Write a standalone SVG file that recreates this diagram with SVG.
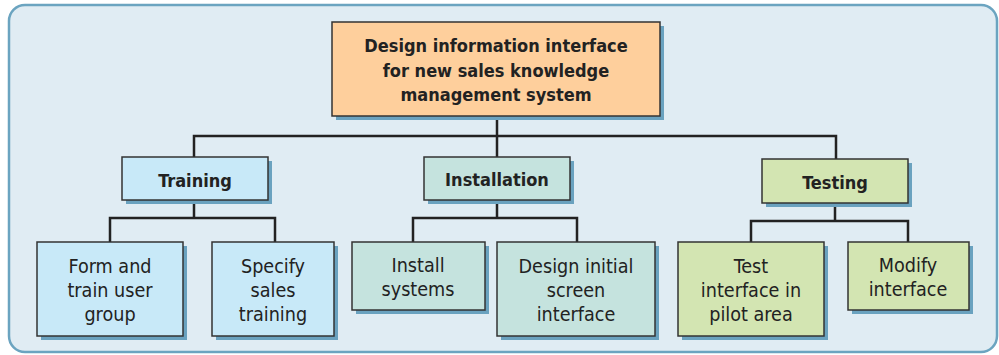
<svg xmlns="http://www.w3.org/2000/svg" width="999" height="355" viewBox="0 0 999 355">
<defs>
<style>
.bg{fill:#e0ecf3;stroke:#6ba4c0;stroke-width:2.5}
.sh{fill:#6aa2bf}
.box{stroke:#333;stroke-width:1.5}
.o{fill:#fecf9c}
.b{fill:#c8e9f8}
.t{fill:#c5e3de}
.g{fill:#d3e5b2}
.conn{fill:none;stroke:#222;stroke-width:2.5}
text{font-family:"DejaVu Sans Condensed","DejaVu Sans",sans-serif;font-stretch:condensed;fill:#222;text-anchor:middle}
.h{font-weight:bold;font-size:18px}
.r{font-size:19.6px}
</style>
</defs>
<rect class="bg" x="9" y="5" width="988" height="347" rx="16"/>
<g id="connectors">
<path class="conn" d="M497 116V157M194 157V136H836V159"/>
<path class="conn" d="M194 200V218M110 242V218H275V242"/>
<path class="conn" d="M497 200V218M413 242V218H577V242"/>
<path class="conn" d="M835 203V221M751 242V221H908V242"/>
</g>
<g id="root">
<rect class="sh" x="336" y="26" width="328" height="94"/>
<rect class="box o" x="332" y="22" width="328" height="94"/>
<text class="h" x="496" y="52">Design information interface</text>
<text class="h" x="496" y="77">for new sales knowledge</text>
<text class="h" x="496" y="101">management system</text>
</g>
<g id="training">
<rect class="sh" x="126" y="161" width="146" height="43"/>
<rect class="box b" x="122" y="157" width="146" height="43"/>
<text class="h" x="195" y="187">Training</text>
</g>
<g id="installation">
<rect class="sh" x="428" y="161" width="146" height="43"/>
<rect class="box t" x="424" y="157" width="146" height="43"/>
<text class="h" x="497" y="186">Installation</text>
</g>
<g id="testing">
<rect class="sh" x="766" y="163" width="146" height="44"/>
<rect class="box g" x="762" y="159" width="146" height="44"/>
<text class="h" x="835" y="189">Testing</text>
</g>
<g id="form-train">
<rect class="sh" x="41" y="246" width="146" height="94"/>
<rect class="box b" x="37" y="242" width="146" height="94"/>
<text class="r" x="110" y="273">Form and</text>
<text class="r" x="110" y="297">train user</text>
<text class="r" x="110" y="321">group</text>
</g>
<g id="specify">
<rect class="sh" x="216" y="246" width="122" height="94"/>
<rect class="box b" x="212" y="242" width="122" height="94"/>
<text class="r" x="273" y="273">Specify</text>
<text class="r" x="273" y="297">sales</text>
<text class="r" x="273" y="321">training</text>
</g>
<g id="install-systems">
<rect class="sh" x="356" y="246" width="133" height="68"/>
<rect class="box t" x="352" y="242" width="133" height="68"/>
<text class="r" x="418" y="272">Install</text>
<text class="r" x="418" y="296">systems</text>
</g>
<g id="design-screen">
<rect class="sh" x="501" y="246" width="158" height="94"/>
<rect class="box t" x="497" y="242" width="158" height="94"/>
<text class="r" x="576" y="273">Design initial</text>
<text class="r" x="576" y="297">screen</text>
<text class="r" x="576" y="321">interface</text>
</g>
<g id="test-pilot">
<rect class="sh" x="682" y="246" width="146" height="94"/>
<rect class="box g" x="678" y="242" width="146" height="94"/>
<text class="r" x="751" y="273">Test</text>
<text class="r" x="751" y="297">interface in</text>
<text class="r" x="751" y="321">pilot area</text>
</g>
<g id="modify">
<rect class="sh" x="852" y="246" width="121" height="68"/>
<rect class="box g" x="848" y="242" width="121" height="68"/>
<text class="r" x="908" y="272">Modify</text>
<text class="r" x="908" y="296">interface</text>
</g>
</svg>
